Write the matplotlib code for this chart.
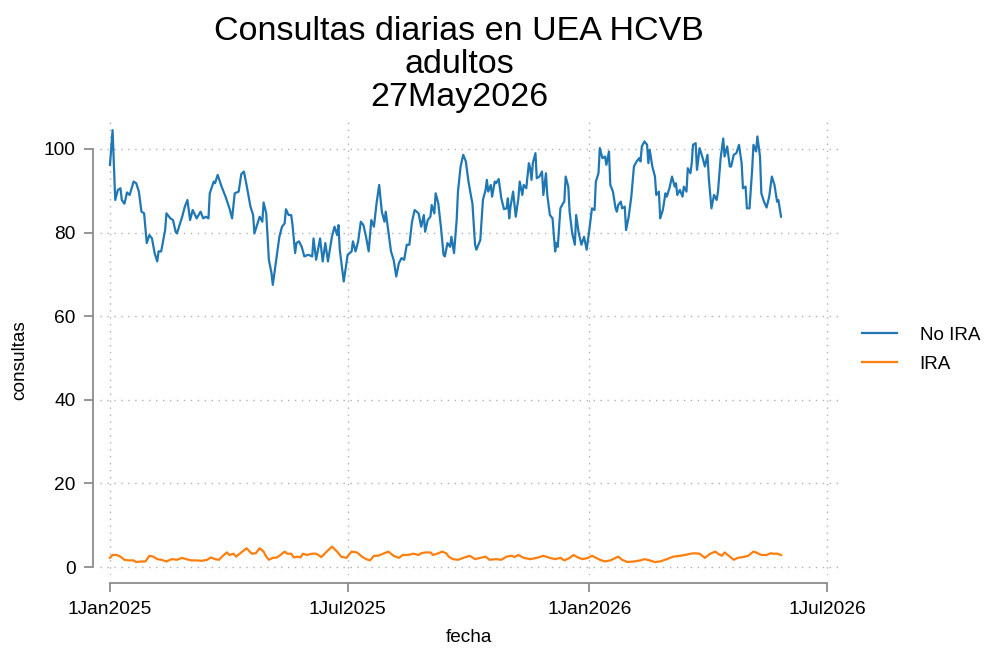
import matplotlib
matplotlib.use("Agg")
import matplotlib.pyplot as plt
import matplotlib.dates as mdates
import matplotlib.ticker as mticker
import pandas as pd

plt.rcParams['font.family'] = ['Liberation Sans', 'DejaVu Sans']

inicio = pd.Timestamp("2025-01-01")

# No IRA: dias desde 1Jan2025 y consultas
dias_no_ira = [0, 2, 4, 6, 8, 9, 11, 13, 15, 18, 20, 22, 24, 26, 28, 30, 32, 34, 36, 37,
               39, 42, 43, 46, 48, 50, 51, 55, 57, 59, 61, 63, 66, 69, 71, 73, 75, 76, 79, 80,
               82, 85, 88, 91, 93, 95, 98, 100, 102, 104, 107, 109, 110, 112, 114, 116, 117, 119, 121, 123,
               124, 127, 129, 131, 133, 134, 136, 138, 139, 141, 142, 144, 146, 148, 151, 154, 155, 157, 160, 162,
               164, 166, 169, 171, 173, 174, 175, 178, 181, 184, 185, 187, 189, 191, 193, 195, 197, 199, 201, 203,
               205, 207, 209, 210, 212, 214, 216, 218, 220, 222, 224, 226, 228, 230, 232, 235, 237, 239, 240, 242,
               244, 245, 247, 248, 250, 252, 254, 255, 257, 259, 260, 262, 264, 265, 267, 269, 271, 273, 275, 276,
               278, 279, 282, 284, 286, 287, 288, 290, 291, 293, 294, 296, 298, 300, 302, 303, 304, 305, 307, 309,
               311, 312, 314, 315, 317, 319, 320, 321, 322, 324, 325, 327, 329, 330, 332, 333, 335, 337, 339, 340,
               341, 343, 345, 346, 347, 349, 350, 352, 354, 355, 357, 359, 361, 363, 365, 367, 369, 370, 372, 373,
               375, 377, 378, 380, 381, 383, 385, 386, 387, 389, 390, 392, 393, 395, 397, 398, 399, 401, 403, 404,
               405, 407, 409, 410, 411, 413, 415, 416, 418, 419, 421, 423, 424, 426, 428, 430, 431, 432, 434, 436,
               437, 439, 440, 442, 443, 444, 446, 447, 449, 451, 453, 455, 456, 458, 460, 462, 463, 465, 467, 468,
               470, 472, 473, 475, 477, 479, 481, 482, 484, 485, 487, 489, 490, 492, 493, 495, 496, 498, 500, 502,
               504, 506, 508, 509, 511]
no_ira = [96.2, 104.5, 87.8, 90.2, 90.6, 87.8, 86.9, 89.6, 89.0, 92.2, 91.8, 89.8, 85.0, 84.6, 77.5, 79.4, 78.6, 75.1, 73.1, 75.5,
          75.5, 80.6, 84.6, 83.4, 83.0, 80.2, 79.8, 83.8, 86.2, 87.8, 83.0, 85.4, 83.4, 85.0, 83.4, 83.8, 83.4, 89.4, 92.2, 91.8,
          93.8, 91.0, 88.6, 85.8, 83.4, 89.4, 89.8, 94.0, 94.6, 91.4, 86.2, 84.2, 79.8, 81.8, 83.8, 82.6, 87.2, 84.6, 73.5, 70.3,
          67.5, 74.3, 79.0, 81.4, 82.2, 85.6, 84.2, 84.2, 81.8, 75.1, 77.5, 77.9, 76.6, 74.3, 74.7, 74.3, 78.6, 73.5, 78.6, 73.1,
          77.5, 73.1, 79.0, 81.4, 79.4, 81.8, 75.9, 68.3, 74.7, 75.5, 77.9, 75.5, 77.9, 82.6, 81.8, 79.0, 75.5, 83.0, 81.4, 87.0,
          91.4, 85.0, 82.6, 85.0, 80.2, 75.5, 73.5, 69.5, 72.7, 73.9, 73.5, 77.1, 77.1, 82.6, 85.4, 84.6, 81.4, 84.2, 80.2, 83.0,
          83.8, 86.6, 84.6, 89.4, 87.0, 81.4, 74.7, 74.3, 77.5, 76.6, 79.0, 75.1, 83.0, 89.8, 95.8, 98.6, 97.0, 92.2, 88.6, 87.0,
          77.1, 75.9, 78.2, 87.8, 90.2, 92.6, 89.8, 91.4, 88.6, 92.2, 91.8, 92.8, 88.2, 85.6, 85.8, 88.2, 83.4, 86.2, 89.8, 83.8,
          88.2, 92.2, 89.0, 91.4, 90.6, 96.6, 95.4, 92.6, 96.6, 99.0, 93.0, 93.4, 94.6, 89.0, 94.2, 89.0, 84.2, 83.4, 75.5, 77.5,
          76.6, 85.8, 87.0, 87.4, 93.4, 91.0, 85.0, 79.8, 77.1, 84.2, 79.8, 77.1, 79.0, 75.9, 80.6, 85.8, 85.4, 92.2, 94.2, 100.2,
          97.8, 98.2, 96.2, 99.4, 91.4, 89.8, 85.8, 85.0, 86.6, 87.4, 85.8, 86.2, 80.6, 83.8, 88.6, 92.2, 95.8, 97.0, 97.8, 97.0,
          100.6, 101.8, 101.0, 96.6, 99.8, 95.8, 93.4, 89.0, 89.8, 83.4, 85.4, 89.4, 88.6, 90.6, 93.4, 91.0, 91.8, 89.0, 90.2, 88.6,
          91.0, 89.8, 95.4, 94.2, 96.6, 101.0, 101.4, 95.0, 100.2, 98.2, 95.8, 98.6, 93.0, 85.8, 89.0, 87.8, 89.8, 97.8, 102.5, 98.2,
          100.6, 95.8, 95.8, 98.6, 99.0, 101.0, 96.6, 90.6, 91.0, 85.8, 85.8, 95.0, 101.0, 99.4, 103.0, 98.2, 89.4, 87.4, 86.0, 88.6,
          93.4, 91.4, 87.4, 87.8, 83.8]

# IRA
dias_ira = [0, 2, 5, 8, 11, 14, 18, 20, 24, 27, 30, 33, 36, 39, 43, 47, 51, 55, 58, 62,
            66, 70, 74, 77, 80, 83, 86, 89, 91, 94, 96, 100, 104, 108, 111, 114, 117, 119, 121, 124,
            127, 129, 133, 135, 138, 140, 143, 145, 147, 150, 154, 157, 161, 165, 169, 173, 176, 180, 184, 188,
            192, 195, 198, 201, 204, 208, 212, 216, 220, 223, 227, 231, 235, 237, 240, 244, 246, 250, 253, 256,
            258, 261, 265, 269, 274, 278, 282, 286, 289, 294, 298, 302, 306, 308, 311, 315, 320, 325, 330, 335,
            339, 343, 346, 350, 353, 357, 360, 364, 367, 369, 373, 377, 381, 385, 387, 390, 394, 399, 404, 407,
            411, 415, 419, 424, 429, 434, 438, 442, 445, 449, 453, 457, 461, 463, 466, 468, 472, 475, 478, 482,
            486, 490, 492, 496, 500, 503, 505, 508, 511]
ira = [2.2, 2.9, 2.9, 2.5, 1.75, 1.6, 1.6, 1.2, 1.35, 1.35, 2.7, 2.5, 1.9, 1.75, 1.35, 1.9, 1.75, 2.2, 1.9, 1.6,
       1.6, 1.5, 1.75, 2.3, 1.9, 1.75, 2.7, 3.5, 2.9, 3.2, 2.5, 3.5, 4.5, 3.2, 3.3, 4.5, 3.7, 2.5, 1.75, 2.2,
       2.3, 2.7, 3.7, 3.2, 3.2, 2.3, 2.5, 2.3, 3.2, 2.9, 3.2, 3.2, 2.4, 3.7, 4.9, 3.7, 2.5, 2.2, 3.7, 3.5,
       2.5, 1.9, 1.6, 2.7, 2.7, 3.2, 3.7, 2.7, 2.2, 2.9, 2.9, 3.2, 2.9, 3.3, 3.5, 3.5, 2.9, 3.3, 3.7, 3.3,
       2.5, 1.9, 1.75, 2.2, 2.7, 1.9, 2.2, 2.5, 1.75, 1.9, 1.75, 2.5, 2.7, 2.4, 2.9, 2.2, 1.9, 2.2, 2.7, 2.2,
       1.9, 2.2, 1.6, 2.2, 2.9, 2.2, 1.9, 2.2, 2.7, 2.4, 1.75, 1.35, 1.6, 2.2, 2.5, 1.75, 1.2, 1.35, 1.6, 1.9,
       1.6, 1.2, 1.35, 1.9, 2.5, 2.7, 2.9, 3.2, 3.3, 3.2, 2.2, 3.2, 3.7, 3.2, 2.7, 3.5, 2.5, 1.75, 2.2, 2.4,
       2.7, 3.7, 3.5, 2.9, 2.9, 3.3, 3.2, 3.2, 2.9]

fechas_ticks = ["2025-01-01", "2025-07-01", "2026-01-01", "2026-07-01"]
y_ticks = [0, 20, 40, 60, 80, 100]

fecha_no_ira = inicio + pd.to_timedelta(dias_no_ira, unit="D")
fecha_ira = inicio + pd.to_timedelta(dias_ira, unit="D")
ticks = pd.to_datetime(fechas_ticks)

fig = plt.figure(figsize=(9.88, 6.51), dpi=100)
ax = fig.add_axes([0.1012, 0.1167, 0.7470, 0.7020])

ax.plot(fecha_no_ira, no_ira, color="#1f77b4", lw=1.6, label="No IRA")
ax.plot(fecha_ira, ira, color="#ff7f0e", lw=1.6, label="IRA")

ax.set_xlim(ticks[0] - pd.Timedelta(days=7.6), ticks[-1] + pd.Timedelta(days=8.4))
ax.set_ylim(-1.9, 107.4)
ax.set_xticks(ticks)
ax.set_yticks(y_ticks)
ax.xaxis.set_major_formatter(mticker.FuncFormatter(
    lambda v, p: "%d%s" % (mdates.num2date(v).day, mdates.num2date(v).strftime("%b%Y"))))

# estilo tipo Stata
ax.grid(True, linestyle=(0, (1, 4)), color="#b0b0b0", lw=1)
for s in ["top", "right"]:
    ax.spines[s].set_visible(False)
ax.spines["left"].set_position(("outward", 5))
ax.spines["bottom"].set_position(("outward", 6))
ax.spines["left"].set_bounds(0, 100)
ax.spines["bottom"].set_bounds(mdates.date2num(ticks[0]), mdates.date2num(ticks[-1]))
for s in ["left", "bottom"]:
    ax.spines[s].set_color("#8c8c8c")
    ax.spines[s].set_linewidth(1.3)
ax.tick_params(axis="both", colors="#8c8c8c", labelcolor="black", labelsize=13.8,
               width=1.3, length=6.2, pad=6.5)

ax.set_xlabel("fecha", fontsize=13.7, labelpad=8)
ax.set_ylabel("consultas", fontsize=13.7, labelpad=11, y=0.47)
ax.set_title("Consultas diarias en UEA HCVB\nadultos\n27May2026", fontsize=24.5,
             linespacing=1.08, pad=9, x=0.4864)

ax.legend(loc="center left", bbox_to_anchor=(1.0095, 0.493), frameon=False, fontsize=13.6,
          handlelength=1.85, handletextpad=1.2, labelspacing=0.6)

plt.savefig("out.png", dpi=100)
